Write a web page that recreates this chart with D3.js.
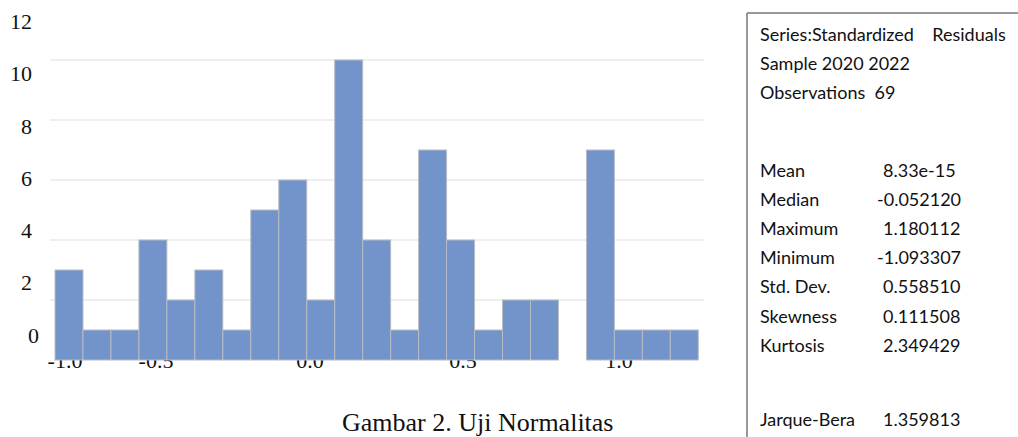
<!DOCTYPE html>
<html><head><meta charset="utf-8">
<script src="https://cdn.jsdelivr.net/npm/d3@7"></script>
<style>html,body{margin:0;padding:0;background:#fff;}svg{display:block;}</style>
</head><body>
<svg id="c" width="1018" height="437"></svg>
<script>
// Histogram bins (lower edges) of standardized residuals, width 0.1
const binStarts = [-1.1,-1.0,-0.9,-0.8,-0.7,-0.6,-0.5,-0.4,-0.3,-0.2,-0.1,0.0,0.1,0.2,0.3,0.4,0.5,0.6,0.7,0.8,0.9,1.0,1.1];
const counts    = [3,1,1,4,2,3,1,5,6,2,10,4,1,7,4,1,2,2,0,7,1,1,1];
const binWidth = 0.1;
const yTicks = [0,2,4,6,8,10,12];
const yGrid = [2,4,6,8,10];
const xTickLabels = ["-1.0","-0.5","0.0","0.5","1.0"];
const caption = "Gambar 2. Uji Normalitas";
const statsHeader = ["Series:Standardized    Residuals","Sample 2020 2022","Observations  69"];
const statsLabels = ["Mean","Median","Maximum","Minimum","Std. Dev.","Skewness","Kurtosis"];
const statsValues = ["8.33e-15","-0.052120","1.180112","-1.093307","0.558510","0.111508","2.349429"];
const jbLabel = "Jarque-Bera", jbValue = "1.359813";

const svg = d3.select("#c");
const x = d3.scaleLinear().domain([-1.1, 1.2]).range([55, 698.3]);
const y = d3.scaleLinear().domain([0, 12]).range([360, 0]);
// tick labels in the figure are placed on their own (offset) positions
const yLab = d3.scaleLinear().domain([0, 12]).range([335, 21.5]);
const xLab = d3.scaleOrdinal().domain(xTickLabels).range([65,156,310,463,619]);

// gridlines
svg.append("g").selectAll("line").data(yGrid).join("line")
  .attr("x1", 50).attr("x2", 704)
  .attr("y1", d => y(d)).attr("y2", d => y(d))
  .attr("stroke", "#efefef").attr("stroke-width", 2);

// y labels
svg.append("g").selectAll("text").data(yTicks).join("text")
  .attr("x", d => d === 0 ? 39 : 32)
  .attr("y", d => yLab(d) + 7.5)
  .attr("text-anchor", "end")
  .attr("font-family", "Liberation Serif")
  .attr("font-size", 22).attr("fill", "#111")
  .text(d => d);

// x labels (drawn beneath bars)
svg.append("g").selectAll("text").data(xTickLabels).join("text")
  .attr("x", d => xLab(d))
  .attr("y", 368)
  .attr("text-anchor", "middle")
  .attr("font-family", "Liberation Serif")
  .attr("font-size", 22).attr("fill", "#111")
  .text(d => d);

// bars
svg.append("g").selectAll("rect").data(binStarts.map((b,i)=>({b, c:counts[i]})).filter(d=>d.c>0)).join("rect")
  .attr("x", d => x(d.b))
  .attr("width", d => x(d.b + binWidth) - x(d.b))
  .attr("y", d => y(d.c))
  .attr("height", d => y(0) - y(d.c))
  .attr("fill", "#7294cb")
  .attr("stroke", "#b8bcc4").attr("stroke-width", 1);

// caption
svg.append("text").attr("x", 342).attr("y", 431)
  .attr("font-family", "Liberation Serif").attr("font-size", 26).attr("fill", "#111")
  .text(caption);

// stats box
svg.append("line").attr("x1", 747).attr("x2", 747).attr("y1", 13).attr("y2", 437)
  .attr("stroke", "#777").attr("stroke-width", 1.5);
svg.append("line").attr("x1", 747).attr("x2", 1018).attr("y1", 13).attr("y2", 13)
  .attr("stroke", "#777").attr("stroke-width", 1.5);

const tf = "Lato", ts = 18;
const g = svg.append("g").attr("font-family", tf).attr("font-size", ts).attr("fill", "#111");
g.selectAll("text.h").data(statsHeader).join("text").attr("class","h")
  .attr("x", 760).attr("y", (d,i) => 41 + i*29)
  .attr("xml:space","preserve").style("white-space","pre")
  .text(d => d);
g.selectAll("text.l").data(statsLabels).join("text").attr("class","l")
  .attr("x", 760).attr("y", (d,i) => 177 + i*29.1)
  .text(d => d);
g.selectAll("text.v").data(statsValues).join("text").attr("class","v")
  .attr("x", d => d.startsWith("-") ? 877 : 883).attr("y", (d,i) => 177 + i*29.1)
  .text(d => d);
g.append("text").attr("x", 760).attr("y", 426).text(jbLabel);
g.append("text").attr("x", 883).attr("y", 426).text(jbValue);
</script>
</body></html>
